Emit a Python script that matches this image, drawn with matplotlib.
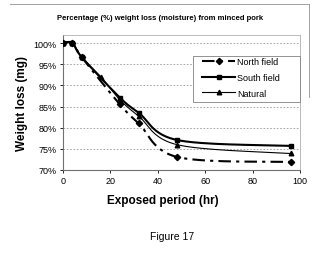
import numpy as np
import matplotlib
matplotlib.use("Agg")
import matplotlib.pyplot as plt
from matplotlib.lines import Line2D
from matplotlib.patches import Rectangle
from matplotlib.ticker import PercentFormatter

plt.rcParams["font.family"] = ["Liberation Sans", "DejaVu Sans"]

# Data
hours = [0, 4, 8, 24, 32, 48, 96]
hours_nat = [0, 4, 8, 16, 24, 32, 48, 96]
north = [1.00, 1.00, 0.966, 0.855, 0.810, 0.731, 0.719]
south = [1.00, 1.00, 0.966, 0.871, 0.835, 0.771, 0.757]
natural = [1.00, 1.00, 0.966, 0.920, 0.866, 0.827, 0.760, 0.739]
x_ticks = [0, 20, 40, 60, 80, 100]
y_ticks = [0.70, 0.75, 0.80, 0.85, 0.90, 0.95, 1.00]


def smooth(xs, ys, n=30):
    # Excel-like smoothed line: cubic bezier segments (catmull-rom tangents)
    p = np.column_stack([xs, ys]).astype(float)
    out = []
    for i in range(len(p) - 1):
        p0 = p[max(i - 1, 0)]
        p1 = p[i]
        p2 = p[i + 1]
        p3 = p[min(i + 2, len(p) - 1)]
        c1 = p1 + (p2 - p0) / 6
        c2 = p2 - (p3 - p1) / 6
        t = np.linspace(0, 1, n)[:, None]
        seg = ((1 - t) ** 3) * p1 + 3 * ((1 - t) ** 2) * t * c1 + 3 * (1 - t) * t ** 2 * c2 + t ** 3 * p2
        out.append(seg if i == 0 else seg[1:])
    out = np.vstack(out)
    return out[:, 0], out[:, 1]


fig = plt.figure(figsize=(3.16, 2.55), dpi=100)
W, H = 316, 255
ax = fig.add_axes([63 / W, 1 - 171 / H, (300 - 63) / W, (171 - 36) / H])

nd = (6, 2.5, 1.5, 2.5)
sx, sy = smooth(hours, north)
ax.plot(sx, sy, color="black", lw=1.5, dashes=nd, zorder=3)
ax.plot(hours, north, ls="none", marker="D", ms=3.2, color="black", zorder=4)

sx, sy = smooth(hours, south)
ax.plot(sx, sy, color="black", lw=1.5, zorder=3)
ax.plot(hours, south, ls="none", marker="s", ms=3.5, color="black", zorder=4)

sx, sy = smooth(hours_nat, natural)
ax.plot(sx, sy, color="black", lw=0.8, zorder=3)
ax.plot(hours_nat, natural, ls="none", marker="^", ms=3.3, color="black", zorder=4)

ax.set_xlim(0, 100)
ax.set_ylim(0.70, 1.019)
ax.set_xticks(x_ticks)
ax.set_yticks(y_ticks)
ax.yaxis.set_major_formatter(PercentFormatter(1.0, decimals=0))
ax.tick_params(labelsize=6.5, length=2.5, width=0.6, pad=2, colors="black")
for t in y_ticks[1:]:
    ax.axhline(t, color="#999999", lw=0.6, dashes=(2, 2), zorder=1)

for s in ["left", "bottom"]:
    ax.spines[s].set_color("#707070")
    ax.spines[s].set_linewidth(0.8)
for s in ["top", "right"]:
    ax.spines[s].set_color("#b0b0b0")
    ax.spines[s].set_linewidth(0.6)

ax.set_ylabel("Weight loss (mg)", fontsize=8.5, fontweight="bold", labelpad=4)
fig.text(163 / W, 1 - 201 / H, "Exposed period (hr)", ha="center", va="center",
         fontsize=8.5, fontweight="bold")

# legend box
fig.add_artist(Rectangle((193 / W, 1 - 103 / H), (300 - 193) / W, (103 - 57) / H,
                         transform=fig.transFigure, facecolor="white",
                         edgecolor="#808080", lw=0.6, zorder=5))
handles = [
    Line2D([], [], color="black", lw=1.5, dashes=nd, marker="D", ms=3.2),
    Line2D([], [], color="black", lw=1.5, marker="s", ms=3.5),
    Line2D([], [], color="black", lw=0.8, marker="^", ms=3.3),
]
leg = fig.legend(handles, ["North field", "South field", "Natural"], fontsize=6.5,
                 loc="upper left", bbox_to_anchor=(202 / W, 1 - 58 / H), frameon=False,
                 handlelength=3.7, handletextpad=0.2, borderpad=0, labelspacing=0.75,
                 borderaxespad=0)
leg.set_zorder(6)

fig.text(160 / W, 1 - 19 / H, "Percentage (%) weight loss (moisture) from minced pork",
         ha="center", va="center", fontsize=5.5, fontweight="bold")
fig.text(172 / W, 1 - 237 / H, "Figure 17", ha="center", va="center", fontsize=7.5)

# outer chart frame (partly visible in the scan)
fig.add_artist(Line2D([10 / W, 309 / W], [1 - 5 / H, 1 - 5 / H], color="#909090", lw=0.6))
fig.add_artist(Line2D([309 / W, 309 / W], [1 - 5 / H, 1 - 98 / H], color="#909090", lw=0.6))

fig.savefig("out.png", dpi=100)
